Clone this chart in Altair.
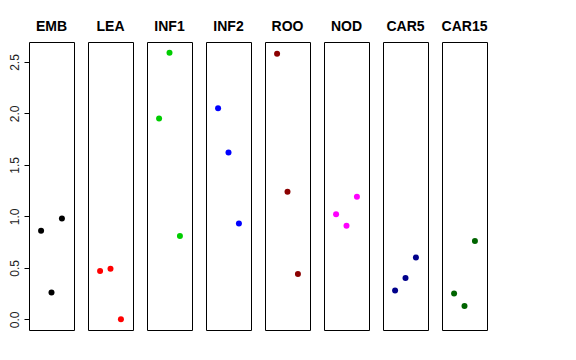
import altair as alt
import pandas as pd

panels = ["EMB", "LEA", "INF1", "INF2", "ROO", "NOD", "CAR5", "CAR15"]
colors = ["#000000", "#FF0000", "#00CD00", "#0000FF", "#8B0000", "#FF00FF", "#00008B", "#006400"]
positions = [1, 2, 3]
values = [
    [0.86, 0.26, 0.98],   # EMB
    [0.47, 0.49, 0.00],   # LEA
    [1.95, 2.59, 0.81],   # INF1
    [2.05, 1.62, 0.93],   # INF2
    [2.58, 1.24, 0.44],   # ROO
    [1.02, 0.91, 1.19],   # NOD
    [0.28, 0.40, 0.60],   # CAR5
    [0.25, 0.13, 0.76],   # CAR15
]
y_ticks = [0.0, 0.5, 1.0, 1.5, 2.0, 2.5]

rows = []
for p, vals in zip(panels, values):
    for pos, v in zip(positions, vals):
        rows.append({"panel": p, "pos": pos, "value": v})
df = pd.DataFrame(rows)

base = alt.Chart(df).mark_circle(size=36, opacity=1).encode(
    x=alt.X("pos:Q", scale=alt.Scale(domain=[-0.16, 4.16], nice=False, zero=False), axis=None),
    y=alt.Y("value:Q",
            scale=alt.Scale(domain=[-0.104, 2.694], nice=False, zero=False),
            axis=alt.Axis(values=y_ticks, format=".1f", title=None, grid=False, domain=False,
                          tickSize=5, tickColor="black", labelColor="#222222",
                          labelAngle=270, labelAlign="center", labelBaseline="bottom",
                          labelFont="Liberation Sans", labelFontSize=12, labelPadding=3)),
    color=alt.Color("panel:N", scale=alt.Scale(domain=panels, range=colors), legend=None),
).properties(width=45, height=288)

chart = base.facet(
    column=alt.Column("panel:N", sort=panels,
                      header=alt.Header(title=None, labelFontWeight="bold", labelFontSize=14,
                                        labelFont="Liberation Sans", labelColor="black",
                                        labelPadding=8)),
    spacing=14,
).properties(
    bounds="flush",
    padding={"left": 0, "top": 12, "right": 0, "bottom": 0}
).configure_view(stroke="black", strokeWidth=1)

chart.save("out.html", embed_options={"renderer": "svg", "actions": False})
